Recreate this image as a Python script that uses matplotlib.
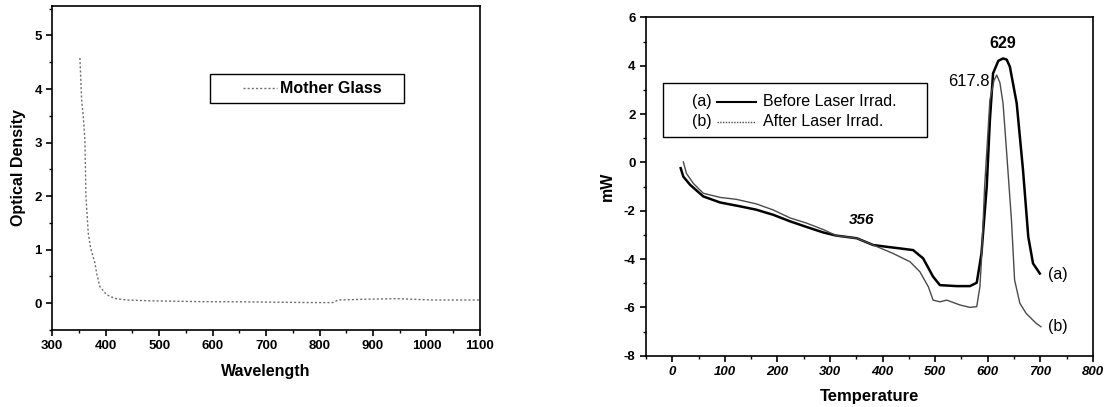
import matplotlib
matplotlib.use("Agg")
import matplotlib.pyplot as plt
from matplotlib.ticker import MultipleLocator
from matplotlib.patches import Rectangle

plt.rcParams['font.family'] = ['Liberation Sans', 'DejaVu Sans']
plt.rcParams['axes.unicode_minus'] = False

# ---- left panel : optical density of the mother glass
wavelength = [351.7, 354.9, 358, 361, 363, 367.3, 371.7, 379.8, 383, 389, 401.6, 417,
              439, 483, 576, 670, 782, 825, 835, 888, 944, 1012, 1100]
od = [4.58, 3.80, 3.49, 3.05, 2.0, 1.31, 1.03, 0.75, 0.56, 0.31, 0.16, 0.09,
      0.06, 0.045, 0.03, 0.025, 0.012, 0.012, 0.06, 0.075, 0.085, 0.06, 0.06]

# ---- right panel : DSC curves
temp_a = [16, 21, 34, 59, 91, 129, 160, 192, 224, 255, 287, 312, 351, 382, 410, 433,
          458, 477, 496, 509, 541, 566, 579, 588, 598, 604, 610, 620, 629, 636, 642,
          655, 667, 677, 686, 699]
mw_a = [-0.24, -0.59, -0.93, -1.41, -1.66, -1.82, -1.96, -2.17, -2.44, -2.67, -2.90,
        -3.03, -3.14, -3.42, -3.50, -3.56, -3.63, -3.97, -4.73, -5.08, -5.12, -5.12,
        -4.98, -3.77, -1.0, 1.75, 3.68, 4.2, 4.3, 4.25, 3.96, 2.44, -0.32, -3.08,
        -4.18, -4.6]

temp_b = [21, 27, 40, 59, 91, 122, 160, 192, 224, 255, 287, 312, 351, 382, 420, 452,
          471, 487, 496, 509, 522, 547, 566, 579, 585, 588, 594, 604, 612, 617, 623,
          629, 636, 645, 651, 661, 673, 692, 701]
mw_b = [0.02, -0.46, -0.87, -1.28, -1.45, -1.53, -1.72, -1.97, -2.30, -2.51, -2.78,
        -3.03, -3.14, -3.42, -3.77, -4.11, -4.53, -5.15, -5.70, -5.77, -5.70, -5.90,
        -6.0, -5.97, -5.15, -4.04, -1.0, 2.58, 3.4, 3.61, 3.3, 2.44, 0.37, -2.39,
        -4.87, -5.83, -6.25, -6.66, -6.8]

fig = plt.figure(figsize=(11.05, 4.07), dpi=100)

#########################
# panneau de gauche
#########################
ax1 = fig.add_axes([0.0473, 0.1892, 0.387, 0.796])
ax1.plot(wavelength, od, color='#707070', lw=1.0, linestyle=(0, (1.5, 1.5)))
ax1.set_xlim(300, 1100)
ax1.set_ylim(-0.5, 5.55)
ax1.xaxis.set_major_locator(MultipleLocator(100))
ax1.xaxis.set_minor_locator(MultipleLocator(50))
ax1.yaxis.set_major_locator(MultipleLocator(1))
ax1.yaxis.set_minor_locator(MultipleLocator(0.5))
ax1.set_xlabel('Wavelength', fontsize=11.5, fontweight='bold', labelpad=8)
ax1.set_ylabel('Optical Density', fontsize=11.5, fontweight='bold', labelpad=6)

# legende faite a la main
ax1.add_patch(Rectangle((0.370, 0.7016), 0.453, 0.0884, transform=ax1.transAxes,
                        fill=False, edgecolor='black', lw=1.0))
ax1.plot([0.446, 0.525], [0.746, 0.746], transform=ax1.transAxes,
         color='#707070', lw=1.0, linestyle=(0, (1.5, 1.5)))
ax1.text(0.532, 0.746, 'Mother Glass', transform=ax1.transAxes, fontsize=11.5,
         fontweight='bold', va='center', ha='left')

#########################
# panneau de droite
#########################
ax2 = fig.add_axes([0.5846, 0.126, 0.4045, 0.8314])
ax2.plot(temp_a, mw_a, color='black', lw=1.8)
ax2.plot(temp_b, mw_b, color='#4a4a4a', lw=1.0)
ax2.set_xlim(-50, 800)
ax2.set_ylim(-8, 6)
ax2.xaxis.set_major_locator(MultipleLocator(100))
ax2.xaxis.set_minor_locator(MultipleLocator(50))
ax2.yaxis.set_major_locator(MultipleLocator(2))
ax2.yaxis.set_minor_locator(MultipleLocator(1))
ax2.set_xlabel('Temperature', fontsize=12, fontweight='bold', labelpad=8)
ax2.set_ylabel('mW', fontsize=11.5, fontweight='bold', labelpad=6)

ax2.text(629, 4.92, '629', fontsize=11.5, fontweight='bold', ha='center', va='center')
ax2.text(604, 3.33, '617.8', fontsize=12, ha='right', va='center')
ax2.text(360, -2.39, '356', fontsize=11, fontweight='bold', fontstyle='italic',
         ha='center', va='center')
ax2.text(715, -4.66, '(a)', fontsize=11.5, ha='left', va='center')
ax2.text(715, -6.8, '(b)', fontsize=11.5, ha='left', va='center')

ax2.add_patch(Rectangle((0.0387, 0.647), 0.589, 0.158, transform=ax2.transAxes,
                        fill=False, edgecolor='black', lw=1.0))
ax2.text(0.1246, 0.7505, '(a)', transform=ax2.transAxes, fontsize=11.5, ha='center', va='center')
ax2.plot([0.160, 0.247], [0.7505, 0.7505], transform=ax2.transAxes, color='black', lw=1.5)
ax2.text(0.262, 0.7505, 'Before Laser Irrad.', transform=ax2.transAxes, fontsize=11.5,
         ha='left', va='center')
ax2.text(0.1246, 0.6915, '(b)', transform=ax2.transAxes, fontsize=11.5, ha='center', va='center')
ax2.plot([0.160, 0.247], [0.6915, 0.6915], transform=ax2.transAxes, color='#4a4a4a',
         lw=1.0, linestyle=(0, (1, 1)))
ax2.text(0.262, 0.6915, 'After Laser Irrad.', transform=ax2.transAxes, fontsize=11.5,
         ha='left', va='center')

for ax in (ax1, ax2):
    for sp in ax.spines.values():
        sp.set_linewidth(1.2)
    ax.tick_params(which='major', direction='out', length=4, width=1.2, labelsize=9.5,
                   top=False, right=False)
    ax.tick_params(which='minor', direction='out', length=2.5, width=1.0,
                   top=False, right=False)

for lab in ax1.get_xticklabels() + ax1.get_yticklabels() + ax2.get_yticklabels():
    lab.set_fontweight('bold')
for lab in ax2.get_xticklabels():
    lab.set_fontweight('bold')
    lab.set_fontstyle('italic')

fig.savefig('out.png', dpi=100)
